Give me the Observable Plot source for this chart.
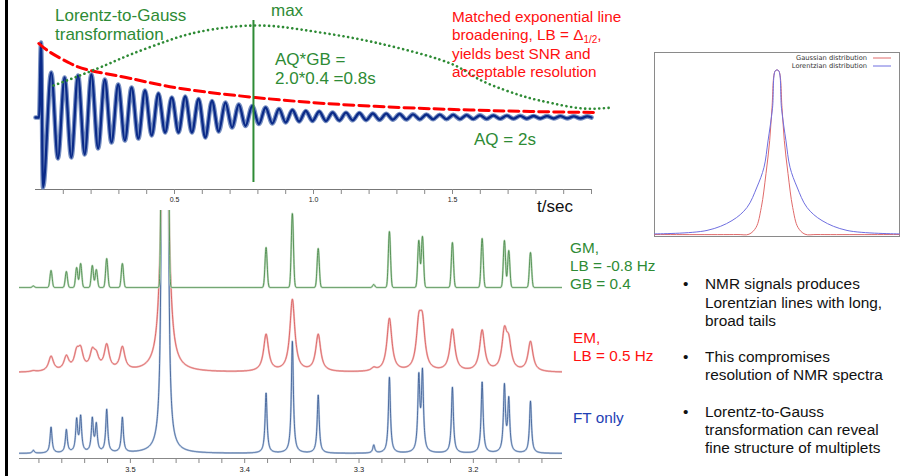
<!DOCTYPE html>
<html><head><meta charset="utf-8">
<script src="https://cdn.jsdelivr.net/npm/d3@7"></script>
<script src="https://cdn.jsdelivr.net/npm/@observablehq/plot@0.6"></script>
<style>
html,body{margin:0;padding:0;background:#fff;}
#slide{position:relative;width:921px;height:476px;overflow:hidden;background:#fff;font-family:"Liberation Sans",Arial,sans-serif;}
#slide > *{position:absolute;}
</style></head><body><div id="slide"></div>
<script>
// ---------- FID panel (top) ----------
// start of the FID: baseline, first spike
const fidStartT = [0.0, 0.013, 0.020, 0.027];
const fidStartV = [0, 0, 75, -70];
// oscillation: first max time and period (s)
const fidT0 = 0.0565, fidPeriod = 0.0482;
const fidMax = [45,40,42,43,38,33,30,27,24,20,21,18.5,16.5,15,13,11.5,10,8.5,7.5,6.5,6,5,4.8,4.5,4,3.8,3.5,3.2,3,2.8,2.6,2.4,2.2,2,1.8,1.7,1.5,1.4,1.3,1.2,1.1];
const fidMin = [-41,-40,-37,-31,-25,-23,-21,-18,-15,-15,-15,-20,-14,-10,-8.5,-6.5,-6,-5,-4,-3.5,-3.5,-3,-2.8,-2.6,-2.4,-2.2,-2,-1.9,-1.8,-1.7,-1.6,-1.5,-1.4,-1.3,-1.2,-1.1,-1,-1,-0.9,-0.9];
const fidEndT = 2.0;
// red dashed exponential (matched EM window)
const redT = [0.012,0.054,0.126,0.198,0.342,0.522,0.791,1.043,1.313,1.565,1.78,2.007];
const redV = [74,65,54,47,39,29,20,14,10,7.5,6,5];
// green dotted Lorentz-to-Gauss window
const greenT = [0.065,0.223,0.342,0.468,0.594,0.784,0.953,1.133,1.313,1.493,1.590,1.683,1.770,1.863,1.971,2.076];
const greenV = [32,49,63,76,86,92,88,80,69,54,39,28,20,14,9,10];
// vertical "max" marker at AQ*GB = 0.8 s
const maxMarker = [{t: 0.784, top: 97, bottom: -65}];
const fidTicks = [0.1,0.2,0.3,0.4,0.5,0.6,0.7,0.8,0.9,1.0,1.1,1.2,1.3,1.4,1.5,1.6,1.7,1.8,1.9,2.0];
const fidTickLabels = [0.5,1.0,1.5];

// ---------- spectra (bottom) ----------
const peakPpm   = [3.5849,3.5694,3.5560,3.5470,3.5435,3.5333,3.5298,3.5207,3.5070,3.4717,3.4679,3.3813,3.3583,3.3357,3.2871,3.2734,3.2477,3.2445,3.2183,3.1923,3.1728,3.1690,3.1500];
const gmHeights = [1.5,17,16,20,24,22,18,29,24,600,600,40,74,39,3,56,47,51,45,49,47,37,35];
const emHeights = [1,15,14,16,18,17,12,25,23,180,180,37,72,37,3,53,42,42,42,41,37,25,30];
const ftHeights = [3,26,23,32,35,33,27,43,35,590,590,60,112,58,8,76,73,78,66,71,66,52,52];
const gmSigma = 0.00095, emHwhm = 0.0026, ftHwhm = 0.00105;   // line widths (ppm)
const gmBase = 171, emBase = 86, ftBase = 5;                   // stacking offsets
const specDomain = [3.597, 3.122];
const specTicks = [3.58,3.56,3.54,3.52,3.5,3.48,3.46,3.44,3.42,3.4,3.38,3.36,3.34,3.32,3.3,3.28,3.26,3.24,3.22,3.2,3.18,3.16,3.14];
const specLabels = [3.5,3.4,3.3,3.2];

// ---------- inset: Gaussian vs Lorentzian ----------
const lorentzX = [-122.5,-70,-45,-30,-20,-13,-9,-4.5,-1.5,1.5,4.5,9,13,20,30,45,70,122.5];
const lorentzY = [0.004,0.025,0.085,0.165,0.29,0.41,0.57,0.77,1,1,0.77,0.57,0.41,0.29,0.165,0.085,0.025,0.004];
const gaussX = [-122.5,-40,-28,-21,-15.7,-11,-7.3,-5,-1.5,1.5,5,7.3,11,15.7,21,28,40,122.5];
const gaussY = [0,0,0.002,0.043,0.165,0.372,0.573,0.774,1,1,0.774,0.573,0.372,0.165,0.043,0.002,0,0];

const FONT = "Liberation Sans, Arial, sans-serif";
const GREEN = "#2e8b35", RED = "#ff1010", BLUE = "#1e40b4";
const slide = document.getElementById("slide");

// ---- FID plot ----
const fidData = fidStartT.map((t, i) => ({t, v: fidStartV[i]}));
fidMax.forEach((v, k) => {
  fidData.push({t: fidT0 + k * fidPeriod, v});
  if (k < fidMin.length) fidData.push({t: fidT0 + (k + 0.5) * fidPeriod, v: fidMin[k]});
});
fidData.push({t: fidEndT, v: 0});
const redData = redT.map((t, i) => ({t, v: redV[i]}));
const greenData = greenT.map((t, i) => ({t, v: greenV[i]}));

const topPlot = Plot.plot({
  width: 625, height: 212, marginLeft: 35, marginRight: 34, marginTop: 0, marginBottom: 23,
  x: {domain: [0, 2]}, y: {domain: [-72, 117], axis: null},
  style: {background: "transparent", overflow: "visible", fontFamily: FONT},
  marks: [
    Plot.ruleY([-72], {stroke: "#777"}),
    Plot.axisX({ticks: fidTicks, tickSize: 5, tickPadding: 3, fontSize: 7, stroke: "#888", fill: "#222",
      tickFormat: d => fidTickLabels.includes(d) ? d.toFixed(1) : "", label: null}),
    Plot.line(fidData, {x: "t", y: "v", curve: "monotone-x", stroke: "#7890c2", strokeWidth: 4.6}),
    Plot.line(fidData, {x: "t", y: "v", curve: "monotone-x", stroke: "#0a2a88", strokeWidth: 2.3}),
    Plot.line(redData, {x: "t", y: "v", curve: "natural", stroke: "#ff0000", strokeWidth: 3, strokeDasharray: "10,5"}),
    Plot.line(greenData, {x: "t", y: "v", curve: "natural", stroke: GREEN, strokeWidth: 2.6, strokeDasharray: "0.1,4.6", strokeLinecap: "round"}),
    Plot.ruleX(maxMarker, {x: "t", y1: "top", y2: "bottom", stroke: GREEN, strokeWidth: 2})
  ]
});
topPlot.style.left = "0px"; topPlot.style.top = "0px";
slide.appendChild(topPlot);

// ---- spectra plot ----
function spectrum(heights, gaussian, width, offset) {
  const pts = [];
  for (let p = specDomain[0]; p >= specDomain[1]; p -= 0.00015) {
    let v = offset;
    for (let i = 0; i < peakPpm.length; i++) {
      const d = (p - peakPpm[i]) / width;
      v += gaussian ? heights[i] * Math.exp(-0.5 * d * d) : heights[i] / (1 + d * d);
    }
    pts.push({ppm: p, v});
  }
  return pts;
}
const gm = spectrum(gmHeights, true, gmSigma, gmBase);
const em = spectrum(emHeights, false, emHwhm, emBase);
const ft = spectrum(ftHeights, false, ftHwhm, ftBase);

const specPlot = Plot.plot({
  width: 580, height: 268, marginLeft: 19, marginRight: 18, marginTop: 2, marginBottom: 18,
  x: {domain: specDomain}, y: {domain: [0, 248], axis: null},
  style: {background: "transparent", overflow: "visible", fontFamily: FONT},
  marks: [
    Plot.ruleY([0], {stroke: "#888"}),
    Plot.axisX({ticks: specTicks, tickSize: 5, tickPadding: 3, fontSize: 7.5, stroke: "#888", fill: "#222",
      tickFormat: d => specLabels.includes(d) ? d.toFixed(1) : "", label: null}),
    Plot.line(ft, {x: "ppm", y: "v", stroke: "#bccde4", strokeWidth: 2, clip: true}),
    Plot.line(ft, {x: "ppm", y: "v", stroke: "#34558f", strokeWidth: 0.8, clip: true}),
    Plot.line(em, {x: "ppm", y: "v", stroke: "#f3c0c0", strokeWidth: 2, clip: true}),
    Plot.line(em, {x: "ppm", y: "v", stroke: "#d65050", strokeWidth: 0.8, clip: true}),
    Plot.line(gm, {x: "ppm", y: "v", stroke: "#c0dcc0", strokeWidth: 2, clip: true}),
    Plot.line(gm, {x: "ppm", y: "v", stroke: "#3f823f", strokeWidth: 0.8, clip: true})
  ]
});
specPlot.style.left = "0px"; specPlot.style.top = "208px";
slide.appendChild(specPlot);

// ---- inset plot ----
const lorentz = lorentzX.map((x, i) => ({x, y: lorentzY[i]}));
const gauss = gaussX.map((x, i) => ({x, y: gaussY[i]}));
const inset = Plot.plot({
  width: 262, height: 200, marginLeft: 9, marginRight: 8, marginTop: 7, marginBottom: 9,
  x: {domain: [-122.5, 122.5], axis: null}, y: {domain: [-0.012, 1.11], axis: null},
  style: {background: "transparent", overflow: "visible", fontFamily: FONT},
  marks: [
    Plot.frame({stroke: "#8a8a8a"}),
    Plot.line(gauss, {x: "x", y: "y", curve: "catmull-rom", stroke: "#e06a6a", strokeWidth: 1}),
    Plot.line(lorentz, {x: "x", y: "y", curve: "catmull-rom", stroke: "#6f6fe0", strokeWidth: 1})
  ]
});
inset.style.left = "645px"; inset.style.top = "45px";
slide.appendChild(inset);

// ---- left slide bar ----
const bar = document.createElement("div");
Object.assign(bar.style, {left: "5px", top: "0px", width: "2.5px", height: "476px", background: "#000"});
slide.appendChild(bar);

// ---- text overlay ----
const svg = d3.select(slide).append("svg")
  .attr("width", 921).attr("height", 476)
  .style("left", "0px").style("top", "0px").style("pointer-events", "none")
  .attr("font-family", FONT);
function txt(x, y, s, color, size, anchor = "start") {
  return svg.append("text").attr("x", x).attr("y", y).attr("fill", color)
    .attr("font-size", size).attr("text-anchor", anchor).text(s);
}
txt(55, 21, "Lorentz-to-Gauss", GREEN, 17);
txt(55, 40, "transformation", GREEN, 17);
txt(271, 16, "max", GREEN, 17);
txt(275, 65, "AQ*GB =", GREEN, 17);
txt(275, 84, "2.0*0.4 =0.8s", GREEN, 17);
txt(474, 145, "AQ = 2s", GREEN, 17);
txt(452, 21.5, "Matched exponential line", RED, 15.3);
const b = txt(452, 40, "broadening, LB = \u0394", RED, 15.3);
b.append("tspan").attr("font-size", 10).attr("dy", 3).text("1/2");
b.append("tspan").attr("dy", -3).text(",");
txt(452, 58.5, "yields best SNR and", RED, 15.3);
txt(452, 77, "acceptable resolution", RED, 15.3);
txt(537, 212, "t/sec", "#111", 17);
txt(570, 253, "GM,", GREEN, 15.3);
txt(570, 271, "LB = -0.8 Hz", GREEN, 15.3);
txt(570, 289, "GB = 0.4", GREEN, 15.3);
txt(573, 343, "EM,", RED, 15.3);
txt(573, 361, "LB = 0.5 Hz", RED, 15.3);
txt(573, 423, "FT only", BLUE, 15.3);
// inset legend
txt(867, 60.3, "Gaussian distribution", "#333", 6.7, "end").attr("font-family", "DejaVu Sans");
txt(867, 68.3, "Lorentzian distribution", "#333", 6.7, "end").attr("font-family", "DejaVu Sans");
svg.append("line").attr("x1", 873).attr("x2", 891).attr("y1", 58).attr("y2", 58).attr("stroke", "#e06a6a");
svg.append("line").attr("x1", 873).attr("x2", 891).attr("y1", 66).attr("y2", 66).attr("stroke", "#6f6fe0");
// bullets
const bullets = [
  [289.3, ["NMR signals produces", "Lorentzian lines with long,", "broad tails"]],
  [361.7, ["This compromises", "resolution of NMR spectra"]],
  [416.7, ["Lorentz-to-Gauss", "transformation can reveal", "fine structure of multiplets"]]
];
bullets.forEach(([y0, lines]) => {
  txt(683, y0, "\u2022", "#111", 15.4);
  lines.forEach((s, i) => txt(705, y0 + i * 18.3, s, "#111", 15.4));
});
</script></body></html>
